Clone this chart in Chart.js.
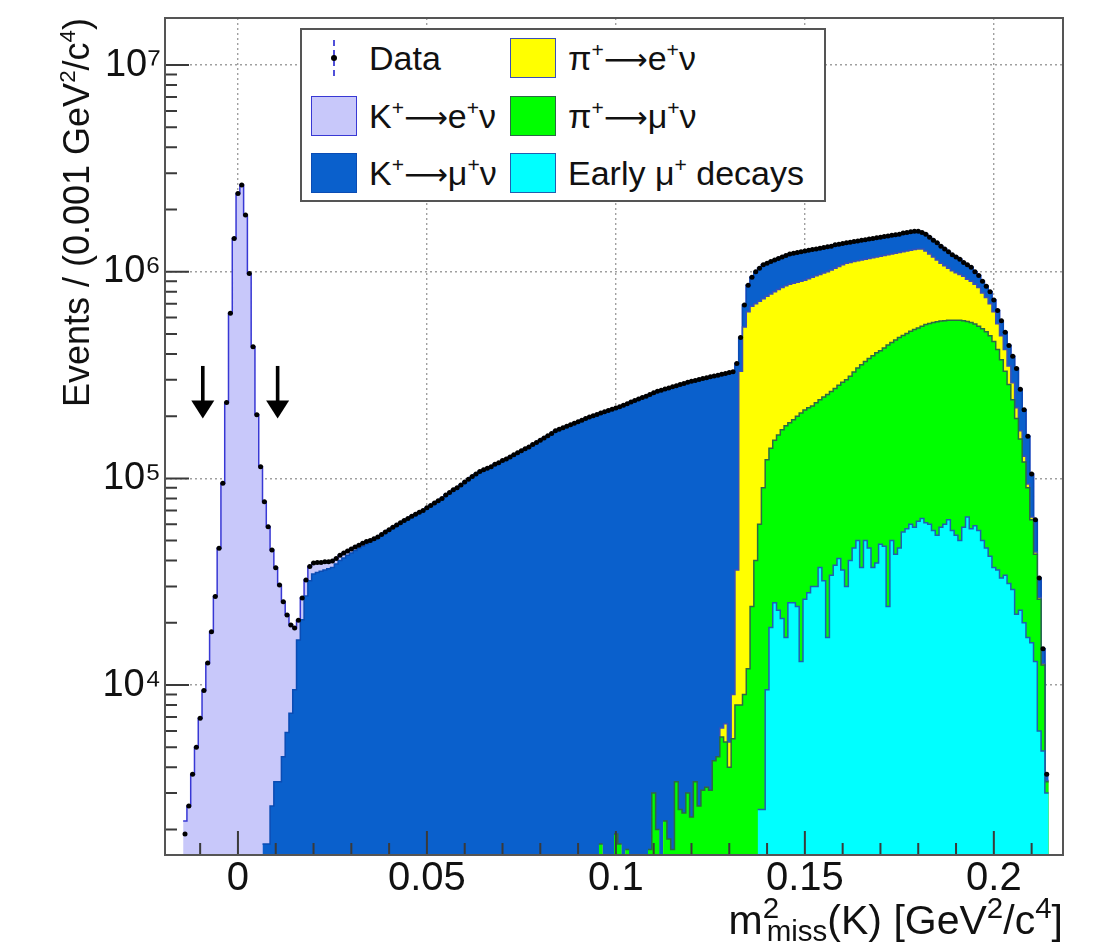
<!DOCTYPE html>
<html>
<head>
<meta charset="utf-8">
<script src="https://cdn.jsdelivr.net/npm/chart.js@4.4.1/dist/chart.umd.min.js"></script>
<style>
  html, body { margin: 0; padding: 0; background: #fff; }
  #wrap { position: relative; width: 1108px; height: 948px; font-family: "Liberation Sans", Arial, sans-serif; color: #111; }
  #chart { position: absolute; left: 0; top: 0; }
  sup, sub { line-height: 0; font-size: 0.62em; }
  sup { vertical-align: 0.62em; }
  sub { vertical-align: -0.3em; }
  #ytitle { position: absolute; left: 59px; top: 438px; width: 420px; height: 36px; font-size: 36px; line-height: 36px;
            text-align: right; white-space: nowrap; transform-origin: 0 0; transform: rotate(-90deg); }
  #xtitle { position: absolute; right: 45px; top: 900px; font-size: 41px; line-height: 41px; white-space: nowrap; }
  #xtitle sup, #xtitle sub { font-size: 0.72em; }
  #xtitle sup { vertical-align: 0.55em; }
  #xtitle sub { vertical-align: -0.25em; }
  #legend { position: absolute; left: 300px; top: 28px; width: 522px; height: 170px; border: 2px solid #555; background: #fff; }
  .sw { position: absolute; width: 44px; height: 38px; border: 1.5px solid; }
  .lt { position: absolute; font-size: 34px; line-height: 34px; white-space: nowrap; }
  .arr { font-family: "DejaVu Sans", sans-serif; font-size: 0.9em; }
</style>
</head>
<body>
<div id="wrap">
  <canvas id="chart" width="1108" height="948"></canvas>
  <div id="ytitle">Events / (0.001 GeV<sup>2</sup>/c<sup>4</sup>)</div>
  <div id="xtitle">m<sup>2</sup><sub style="margin-left:-0.42em">miss</sub>(K) [GeV<sup>2</sup>/c<sup>4</sup>]</div>
  <div id="legend"></div>
</div>
<script>
const binWidth = 0.001;

// counts per 0.001 GeV^2/c^4 bin; bin centre = bin number * binWidth
const dataStart = -14;
const dataCounts = [
  1900, 2600, 3700, 5000, 6900, 9400, 12800, 18100, 26800, 45900,
  94700, 233000, 629000, 1450000, 2390000, 2630000, 1880000, 980000, 434000, 203000,
  114000, 77100, 58400, 45000, 36900, 30500, 25300, 21800, 19500, 18900,
  20600, 26400, 32200, 37500, 39000, 39200, 39200, 39500, 39500, 39800,
  41000, 42500, 43500, 44500, 45500, 46500, 47500, 48500, 49500, 50000,
  51000, 52000, 53500, 55000, 56500, 58000, 59500, 61000, 62500, 64000,
  65500, 67000, 68500, 70000, 72000, 74000, 76000, 78000, 80000, 83000,
  85500, 88000, 90000, 93000, 96000, 99000, 102000, 105000, 108000, 110000,
  112000, 114000, 117000, 119000, 122000, 124000, 127000, 130000, 133000, 136000,
  139000, 142000, 146000, 149000, 153000, 157000, 161000, 165000, 170000, 173000,
  176000, 179000, 182000, 185000, 188000, 191000, 195000, 198000, 201000, 204000,
  207000, 210000, 213000, 216000, 219000, 222000, 226000, 230000, 234000, 238000,
  242000, 246000, 250000, 255000, 260000, 264000, 267000, 271000, 274000, 278000,
  281000, 285000, 288000, 292000, 295000, 298000, 301000, 304000, 307000, 310000,
  313000, 316000, 319000, 322000, 325000, 328000, 360000, 480000, 690000, 860000,
  940000, 1000000, 1040000, 1080000, 1100000, 1120000, 1140000, 1160000, 1180000, 1200000,
  1220000, 1230000, 1240000, 1250000, 1260000, 1270000, 1280000, 1290000, 1300000, 1310000,
  1320000, 1330000, 1350000, 1360000, 1370000, 1380000, 1390000, 1400000, 1410000, 1420000,
  1430000, 1440000, 1450000, 1460000, 1470000, 1480000, 1490000, 1500000, 1510000, 1520000,
  1540000, 1550000, 1560000, 1570000, 1570000, 1550000, 1520000, 1470000, 1420000, 1380000,
  1330000, 1290000, 1250000, 1210000, 1180000, 1150000, 1110000, 1080000, 1050000, 1000000,
  960000, 900000, 850000, 800000, 730000, 650000, 580000, 510000, 440000, 390000,
  340000, 270000, 215000, 160000, 105000, 63000, 33000, 15000, 3700
];

const kenuStart = -14;
const kenuCounts = [
  2200, 2600, 3700, 5000, 6900, 9400, 12800, 18100, 26800, 45900,
  94700, 233000, 629000, 1450000, 2390000, 2630000, 1880000, 980000, 434000, 203000,
  114000, 75400, 56700, 42400, 33500, 27100, 20800, 15900, 12200, 9400,
  4100, 5700, 5200, 5500, 4500, 4200, 3700, 3500, 3000, 2800,
  2500, 2500, 2300, 2000, 1900, 1700, 1500, 1500, 1300, 800,
  700, 600, 500, 500, 300
];

const kmunuStart = 7;
const kmunuCounts = [
  1700, 1700, 2600, 3400, 3400, 4500, 5900, 7300, 9500, 16500,
  20700, 27000, 32000, 34500, 35000, 35500, 36000, 36500, 37000, 38500,
  40000, 41200, 42500, 43600, 44800, 46000, 47000, 48200, 49200, 50300,
  51400, 53000, 54500, 56200, 58000, 59500, 61000, 62500, 64000, 65500,
  67000, 68500, 70000, 72000, 74000, 76000, 78000, 80000, 83000, 85500,
  88000, 90000, 93000, 96000, 99000, 102000, 105000, 108000, 110000, 112000,
  114000, 117000, 119000, 122000, 124000, 127000, 130000, 133000, 136000, 139000,
  142000, 146000, 149000, 153000, 157000, 161000, 165000, 170000, 173000, 176000,
  179000, 182000, 185000, 188000, 191000, 195000, 198000, 201000, 204000, 205300,
  210000, 213000, 216000, 217100, 220300, 226000, 228400, 234000, 238000, 242000,
  246000, 250000, 253400, 257000, 262000, 267000, 268800, 272200, 276400, 277600,
  282500, 285600, 289000, 292700, 294600, 298400, 300900, 303800, 306900, 308700,
  311500, 312800, 315500, 319700, 319000, 324000, 150000, 150000, 220000, 260000,
  300000, 320000, 340000, 340000, 340000, 340000, 340000, 340000, 345000, 350000,
  350000, 350000, 350000, 350000, 345000, 340000, 335000, 330000, 325000, 320000,
  310000, 310000, 300000, 290000, 280000, 280000, 280000, 280000, 280000, 280000,
  280000, 280000, 280000, 280000, 280000, 280000, 280000, 280000, 280000, 290000,
  290000, 290000, 290000, 280000, 260000, 260000, 250000, 240000, 240000, 230000,
  220000, 210000, 200000, 190000, 180000, 160000, 160000, 150000, 130000, 120000,
  110000, 100000, 100000, 90000, 90000, 90000, 90000, 90000, 100000, 120000,
  100000, 87000, 66000, 40000, 19000, 6500, 2300, 250
];

const pienuStart = 128;
const pienuCounts = [
  600, 1200, 1300, 3500, 28000, 322000, 531000, 628000, 656000, 660000,
  660000, 650000, 637000, 640000, 647000, 658000, 668000, 675000, 684000, 688000,
  690000, 693000, 696000, 705000, 716000, 723000, 730000, 737000, 745000, 757000,
  768000, 778000, 788000, 800000, 798000, 793000, 788000, 785000, 782000, 780000,
  778000, 775000, 775000, 772000, 768000, 765000, 762000, 760000, 758000, 757000,
  755000, 755000, 755000, 745000, 705000, 658000, 612000, 567000, 522000, 490000,
  458000, 427000, 407000, 388000, 370000, 345000, 332000, 312000, 295000, 260000,
  238000, 210000, 180000, 140000, 115000, 90000, 65000, 50000, 25000, 15000,
  8000, 4000, 2000, 1000, 500, 200, 50
];

const pimunuStart = 96;
const pimunuCounts = [
  1700, 0, 0, 0, 1900, 1700, 0, 1600, 0, 0,
  0, 0, 0, 1600, 3000, 2000, 0, 2200, 1800, 1600,
  3400, 2500, 2400, 3000, 2300, 3400, 2600, 3100, 3200, 3100,
  4300, 4500, 5600, 5300, 4000, 5500, 8000, 8000, 9000, 12000,
  24000, 40000, 57500, 87500, 113500, 121000, 128000, 139000, 151000, 163000,
  161000, 167000, 176000, 194000, 188000, 192000, 194000, 202000, 203000, 216000,
  238000, 229000, 234000, 241000, 256000, 270000, 272000, 281000, 292000, 318000,
  318000, 334000, 355000, 366000, 367000, 381000, 418000, 405000, 425000, 434000,
  437000, 446000, 455000, 467000, 473000, 481000, 494000, 502000, 512000, 520000,
  520000, 520000, 519000, 527000, 530000, 532000, 522000, 510000, 511000, 499000,
  489000, 480000, 466000, 448000, 423000, 384000, 342000, 296000, 254000, 211000,
  173000, 132000, 100000, 73000, 47000, 30000, 20000, 7700, 400
];

const earlyStart = 138;
const earlyCounts = [
  2500, 2500, 9500, 19000, 25000, 23000, 21000, 17000, 25000, 25000,
  24000, 13000, 26000, 28000, 30000, 30000, 37000, 32000, 17000, 34000,
  38000, 41000, 36000, 30000, 40000, 46000, 50000, 37000, 50000, 46000,
  37000, 39000, 48000, 47000, 24000, 50000, 43000, 46000, 55000, 57000,
  60000, 58000, 62000, 64000, 61000, 60000, 56000, 53000, 58000, 60000,
  63000, 56000, 53000, 50000, 58000, 65000, 57000, 59000, 56000, 50000,
  46000, 42000, 37000, 36000, 33000, 34000, 31000, 29000, 22000, 23000,
  20000, 17000, 16000, 13000, 6000, 4800, 3000
];

const xTickValues = [0, 0.05, 0.1, 0.15, 0.2];
const xTickLabels = ['0', '0.05', '0.1', '0.15', '0.2'];
const yTickValues = [1e4, 1e5, 1e6, 1e7];
const yTickLabels = ['10\u2074', '10\u2075', '10\u2076', '10\u2077'];

// signal region cut arrows
const cutPositions = [-0.0093, 0.0105];
const arrowTop = 3.5e5;
const arrowTip = 1.95e5;

const FONT = "'Liberation Sans', Arial, sans-serif";

// stack order from the bottom, as in the THStack
const layers = [
  { name: 'Early \u03bc\u207a decays', start: earlyStart, counts: earlyCounts, fill: '#00ffff', line: '#2060b0' },
  { name: '\u03c0\u207a\u2192\u03bc\u207a\u03bd', start: pimunuStart, counts: pimunuCounts, fill: '#00ff00', line: '#2a6a45' },
  { name: '\u03c0\u207a\u2192e\u207a\u03bd', start: pienuStart, counts: pienuCounts, fill: '#ffff00', line: '#3a50b8' },
  { name: 'K\u207a\u2192\u03bc\u207a\u03bd', start: kmunuStart, counts: kmunuCounts, fill: '#0a60cc', line: '#0a4cb4' },
  { name: 'K\u207a\u2192e\u207a\u03bd', start: kenuStart, counts: kenuCounts, fill: '#c8c8fa', line: '#3838d4' }
];

function countAt(layer, n) {
  const i = n - layer.start;
  return (i >= 0 && i < layer.counts.length) ? layer.counts[i] : 0;
}

// histogram outline of the stack summed up to layer `top`, two points per bin (its edges)
function stackLevel(top) {
  const pts = [];
  const last = dataStart + dataCounts.length - 1;
  for (let n = dataStart; n <= last; n++) {
    let sum = 0;
    for (let j = 0; j <= top; j++) sum += countAt(layers[j], n);
    const y = sum > 0 ? sum : null;
    pts.push({ x: (n - 0.5) * binWidth, y: y });
    pts.push({ x: (n + 0.5) * binWidth, y: y });
  }
  return pts;
}

const datasets = layers.map((layer, j) => ({
  label: layer.name,
  data: stackLevel(j),
  backgroundColor: layer.fill,
  borderColor: layer.line,
  borderWidth: 1.5,
  fill: 'start',
  pointRadius: 0,
  tension: 0,
  order: j + 1
}));

datasets.push({
  label: 'Data',
  data: dataCounts.map((c, i) => ({ x: (dataStart + i) * binWidth, y: c })),
  showLine: false,
  pointRadius: 2.5,
  pointBackgroundColor: '#000',
  pointBorderColor: '#000',
  pointBorderWidth: 0,
  order: 0
});

const axisMarks = {
  id: 'axisMarks',
  afterDatasetsDraw(chart) {
    const { ctx, chartArea: a, scales: { x, y } } = chart;
    ctx.save();
    ctx.strokeStyle = '#3a3a3a';
    ctx.lineWidth = 2;
    ctx.beginPath();
    for (let i = -2; i <= 22; i++) {
      const v = i / 100;
      if (v < x.min || v > x.max) continue;
      const px = x.getPixelForValue(v);
      const len = i % 5 === 0 ? 24 : 12;
      ctx.moveTo(px, a.bottom);
      ctx.lineTo(px, a.bottom - len);
    }
    for (let d = 3; d <= 7; d++) {
      for (let m = 1; m <= 9; m++) {
        const v = m * Math.pow(10, d);
        if (v < y.min || v > y.max) continue;
        const py = y.getPixelForValue(v);
        ctx.moveTo(a.left, py);
        ctx.lineTo(a.left + (m === 1 ? 24 : 12), py);
      }
    }
    ctx.stroke();

    ctx.fillStyle = '#000';
    cutPositions.forEach(c => {
      const px = x.getPixelForValue(c);
      const top = y.getPixelForValue(arrowTop);
      const tip = y.getPixelForValue(arrowTip);
      ctx.fillRect(px - 1.8, top, 3.6, tip - top - 15);
      ctx.beginPath();
      ctx.moveTo(px - 11.5, tip - 18);
      ctx.lineTo(px + 11.5, tip - 18);
      ctx.lineTo(px, tip);
      ctx.closePath();
      ctx.fill();
    });

    ctx.strokeStyle = '#555';
    ctx.lineWidth = 2;
    ctx.strokeRect(a.left, a.top, a.right - a.left, a.bottom - a.top);
    ctx.restore();
  }
};

new Chart(document.getElementById('chart'), {
  type: 'line',
  data: { datasets: datasets },
  options: {
    responsive: false,
    animation: false,
    events: [],
    layout: { padding: { left: 0, top: 18, right: 45, bottom: 0 } },
    plugins: { legend: { display: false }, tooltip: { enabled: false } },
    scales: {
      x: {
        type: 'linear',
        min: -0.0193,
        max: 0.2183,
        afterBuildTicks: s => { s.ticks = xTickValues.map(v => ({ value: v })); },
        afterFit: s => { s.height = 93; s.paddingLeft = 0; s.paddingRight = 0; },
        ticks: {
          autoSkip: false, maxRotation: 0, padding: 0, color: '#111',
          font: { family: FONT, size: 40 },
          callback: v => xTickLabels[xTickValues.indexOf(v)]
        },
        grid: { color: '#a0a0a0', lineWidth: 1.4, drawTicks: false },
        border: { display: false, dash: [2, 3] }
      },
      y: {
        type: 'logarithmic',
        min: 1505,
        max: 1.69e7,
        afterBuildTicks: s => { s.ticks = yTickValues.map(v => ({ value: v })); },
        afterFit: s => { s.width = 165; s.paddingTop = 0; s.paddingBottom = 0; },
        ticks: {
          autoSkip: false, padding: 4, color: '#111',
          font: { family: FONT, size: 38 },
          callback: v => yTickLabels[yTickValues.indexOf(v)]
        },
        grid: { color: '#a0a0a0', lineWidth: 1.4, drawTicks: false },
        border: { display: false, dash: [2, 3] }
      }
    }
  },
  plugins: [axisMarks]
});

// ROOT style legend box, two columns
const ARROW = '<span class="arr">\u27f6</span>';
const legendEntries = [
  { html: 'Data', col: 0, row: 0, data: true },
  { html: 'K<sup>+</sup>' + ARROW + 'e<sup>+</sup>\u03bd', col: 0, row: 1, layer: 4 },
  { html: 'K<sup>+</sup>' + ARROW + '\u03bc<sup>+</sup>\u03bd', col: 0, row: 2, layer: 3 },
  { html: '\u03c0<sup>+</sup>' + ARROW + 'e<sup>+</sup>\u03bd', col: 1, row: 0, layer: 2 },
  { html: '\u03c0<sup>+</sup>' + ARROW + '\u03bc<sup>+</sup>\u03bd', col: 1, row: 1, layer: 1 },
  { html: 'Early \u03bc<sup>+</sup> decays', col: 1, row: 2, layer: 0 }
];
const legend = document.getElementById('legend');
legendEntries.forEach(e => {
  const sx = e.col === 0 ? 9 : 208;
  const cy = 28 + e.row * 57.5;
  if (e.data) {
    const bar = document.createElement('div');
    bar.style.cssText = 'position:absolute;left:' + (sx + 22) + 'px;top:' + (cy - 18) + 'px;height:36px;border-left:2px dashed #5050d8;';
    legend.appendChild(bar);
    const dot = document.createElement('div');
    dot.style.cssText = 'position:absolute;left:' + (sx + 20) + 'px;top:' + (cy - 3) + 'px;width:6px;height:6px;border-radius:3px;background:#000;';
    legend.appendChild(dot);
  } else {
    const sw = document.createElement('div');
    sw.className = 'sw';
    sw.style.left = sx + 'px';
    sw.style.top = (cy - 20) + 'px';
    sw.style.background = layers[e.layer].fill;
    sw.style.borderColor = layers[e.layer].line;
    legend.appendChild(sw);
  }
  const t = document.createElement('div');
  t.className = 'lt';
  t.style.left = (sx + 58) + 'px';
  t.style.top = (cy - 17) + 'px';
  t.innerHTML = e.html;
  legend.appendChild(t);
});
</script>
</body>
</html>
